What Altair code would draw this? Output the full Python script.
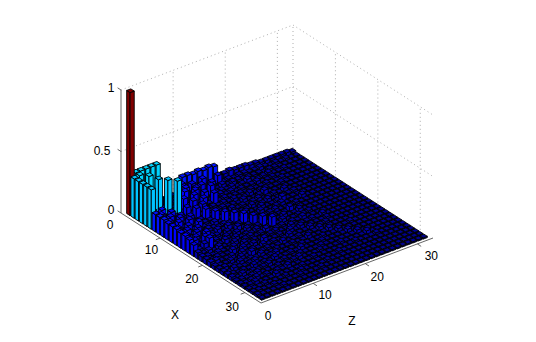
import altair as alt
import pandas as pd

alt.data_transformers.disable_max_rows()

# Bar heights in hundredths; rows are X = 1..32, columns are Z = 1..32
H = [
 [100,33,33,33,33,33,2,2,3,2,15,15,14,15,14,15,14,5,5,6,5,5,5,4,4,3,3,3,3,3,3,2],
 [32,33,13,6,10,5,2,2,3,13,5,10,4,11,4,3,9,2,3,2,3,3,2,2,3,2,1,2,1,2,1,1],
 [32,7,33,5,12,3,3,3,4,12,3,9,10,3,9,2,4,2,3,3,2,2,2,2,1,2,2,1,1,1,1,1],
 [32,6,5,31,6,4,3,3,13,4,11,3,3,10,3,3,2,3,1,2,4,2,1,2,3,1,1,2,1,1,1,1],
 [32,11,6,4,31,4,3,11,4,11,3,10,2,3,4,2,3,1,2,2,2,3,1,1,2,1,1,1,1,1,1,1],
 [32,6,12,3,4,31,4,3,10,3,9,3,10,2,3,2,2,2,1,2,1,1,2,1,1,2,1,1,1,1,1,1],
 [14,12,5,11,6,4,10,3,3,8,2,3,2,3,2,3,2,1,3,1,2,2,1,1,2,1,1,1,1,1,1,1],
 [14,7,11,4,9,5,3,10,3,2,3,2,3,2,2,1,3,1,1,2,4,1,1,1,1,1,1,1,1,1,1,1],
 [14,11,6,11,5,9,3,3,10,3,2,3,1,3,1,2,1,2,3,1,1,2,1,3,1,1,1,1,1,1,1,1],
 [13,7,11,5,10,3,3,3,3,9,2,3,2,2,1,1,3,1,1,3,1,1,1,1,2,1,1,1,1,1,1,1],
 [13,10,5,9,4,9,3,2,4,2,9,2,3,1,3,1,1,3,1,1,2,4,1,1,1,1,1,1,1,1,1,1],
 [13,6,9,4,8,2,4,3,2,3,2,9,2,4,1,1,3,1,1,2,3,1,1,1,3,1,1,1,1,1,1,1],
 [12,9,5,8,3,3,2,4,2,4,1,2,9,1,3,1,1,2,3,1,1,1,2,1,1,1,1,1,1,1,1,1],
 [12,5,8,3,9,4,3,1,3,1,4,1,2,8,1,3,1,1,1,1,4,1,1,1,1,1,1,1,1,1,1,1],
 [11,9,4,9,3,3,2,3,1,3,1,3,1,2,8,1,2,1,3,1,1,3,1,1,1,1,1,1,1,1,1,1],
 [9,4,7,10,3,2,4,1,3,1,2,1,3,1,1,8,1,3,1,1,2,1,2,1,1,1,1,1,1,1,1,1],
 [5,3,4,2,4,2,1,3,1,2,3,1,2,4,1,1,2,1,2,1,3,1,1,1,1,1,1,1,1,1,1,1],
 [4,3,2,3,2,2,3,1,3,1,2,1,1,2,3,1,1,3,1,1,1,2,1,3,1,1,1,1,1,1,1,1],
 [4,2,3,2,2,4,1,3,1,3,1,4,1,1,2,1,3,1,3,1,1,1,1,2,1,1,1,1,1,1,1,1],
 [4,4,2,2,3,1,3,1,2,1,3,1,2,1,1,3,1,1,1,3,1,1,2,1,1,1,1,1,1,1,1,1],
 [3,2,2,3,1,3,1,4,1,1,2,1,1,3,1,1,2,1,1,1,3,1,1,1,1,1,1,1,1,1,1,1],
 [3,3,2,1,3,1,2,1,3,1,1,2,1,1,2,1,1,3,1,1,1,3,1,1,1,2,1,1,1,1,1,1],
 [3,1,3,2,1,2,3,1,1,2,3,1,1,1,1,2,1,1,1,2,1,1,3,1,1,1,1,1,1,1,1,1],
 [3,2,1,2,1,3,1,2,1,3,1,1,2,1,3,1,1,1,2,1,1,1,1,3,1,1,1,1,1,1,1,1],
 [3,1,3,1,2,1,2,3,1,1,2,1,1,2,1,1,1,2,1,1,1,1,1,1,3,1,1,1,1,1,1,1],
 [2,2,1,2,3,1,1,1,2,1,1,2,3,1,1,1,2,1,1,1,2,1,1,1,1,3,1,1,1,1,1,1],
 [2,1,2,3,1,2,1,2,1,3,1,1,1,1,2,1,1,1,1,1,1,1,2,1,1,1,2,1,1,1,1,1],
 [2,2,3,1,1,1,3,1,1,1,1,2,1,1,1,1,1,1,2,1,1,1,1,1,1,1,1,1,1,1,1,1],
 [2,1,1,2,1,1,1,2,1,1,2,1,1,1,1,2,1,1,1,1,1,1,1,1,1,1,1,1,1,1,1,1],
 [2,2,1,1,2,1,1,1,1,2,1,1,1,2,1,1,1,1,1,1,1,1,1,1,1,1,1,1,1,1,1,1],
 [2,1,1,1,1,2,1,1,1,1,1,1,1,1,1,1,1,1,1,1,1,1,1,1,1,1,1,1,1,1,1,1],
 [1,1,1,1,1,1,1,1,1,1,1,1,1,1,1,1,1,1,1,1,1,1,1,1,1,1,1,1,1,1,1,1],
]
HEIGHT_TICKS = [0, 0.5, 1]
HEIGHT_LABELS = ["0", "0.5", "1"]
X_TICKS = [0, 10, 20, 30]
Z_TICKS = [0, 10, 20, 30]

# label nudges from each tick, in pixels
HEIGHT_NUDGE = [(-10, -3), (-19, -1), (-10, -2)]
X_NUDGE = [(-11, 12), (-12, 10), (-14, 11), (-16, 12)]
Z_NUDGE = [(7, 13), (12, 12), (12, 13), (14, 12)]

# oblique view of the box, in page pixels less the 8px margin
W, H_PX = 520, 326
OX, OY = 113, 205
XU = (140 / 33, 90 / 33)
ZU = (172 / 33, -65 / 33)
HU = 123
LIM = 33
BAR = 0.8


def proj(x, z, h=0):
    return (OX + XU[0] * x + ZU[0] * z, OY + XU[1] * x + ZU[1] * z - HU * h)


def jet(v):
    v = round(v * 63) / 63
    r = max(0, min(1, min(4 * v - 1.5, 4.5 - 4 * v)))
    g = max(0, min(1, min(4 * v - 0.5, 3.5 - 4 * v)))
    b = max(0, min(1, min(4 * v + 0.5, 2.5 - 4 * v)))
    return "#%02x%02x%02x" % (round(r * 255), round(g * 255), round(b * 255))


features = []


def add_face(poly, color):
    ring = [[round(p[0], 2), round(p[1], 2)] for p in poly]
    ring.append(ring[0])
    features.append({"type": "Feature", "c": color,
                     "geometry": {"type": "Polygon", "coordinates": [ring]}})


cells = sorted(((x, z) for x in range(1, 33) for z in range(1, 33)), key=lambda c: c[0] - c[1])
for x, z in cells:
    h = H[x - 1][z - 1] / 100
    c = jet(h)
    a = BAR / 2
    add_face([proj(x - a, z - a, h), proj(x + a, z - a, h), proj(x + a, z - a, 0), proj(x - a, z - a, 0)], c)
    add_face([proj(x + a, z - a, h), proj(x + a, z + a, h), proj(x + a, z + a, 0), proj(x + a, z - a, 0)], c)
    add_face([proj(x - a, z - a, h), proj(x + a, z - a, h), proj(x + a, z + a, h), proj(x - a, z + a, h)], c)

xs = alt.Scale(domain=[0, W], nice=False, zero=False)
ys = alt.Scale(domain=[H_PX, 0], nice=False, zero=False)
NOAX = None


def segs(pairs):
    return pd.DataFrame([{"u": a[0], "v": a[1], "u2": b[0], "v2": b[1]} for a, b in pairs])


def rule_layer(df, **mk):
    return alt.Chart(df).mark_rule(**mk).encode(
        x=alt.X("u:Q", scale=xs, axis=NOAX), y=alt.Y("v:Q", scale=ys, axis=NOAX),
        x2="u2:Q", y2="v2:Q")


grid = []
for h in [0.5, 1]:
    grid.append((proj(0, 0, h), proj(0, LIM, h)))
    grid.append((proj(0, LIM, h), proj(LIM, LIM, h)))
for t in [10, 20, 30]:
    grid.append((proj(0, t, 0), proj(0, t, 1)))
    grid.append((proj(t, LIM, 0), proj(t, LIM, 1)))
grid.append((proj(0, LIM, 0), proj(0, LIM, 1)))

axes = [(proj(0, 0, 0), proj(0, 0, 1)), (proj(0, 0, 0), proj(LIM, 0, 0)), (proj(LIM, 0, 0), proj(LIM, LIM, 0))]
for t in HEIGHT_TICKS:
    axes.append((proj(0, 0, t), proj(-0.8, 0, t)))
for t in X_TICKS[1:]:
    axes.append((proj(t - 0.8, 0, 0), proj(t - 0.8, -0.8, 0)))
for t in Z_TICKS[1:]:
    axes.append((proj(LIM, t, 0), proj(LIM + 0.9, t, 0)))

labels = []
for t, s, n in zip(HEIGHT_TICKS, HEIGHT_LABELS, HEIGHT_NUDGE):
    p = proj(0, 0, t)
    labels.append({"u": p[0] + n[0], "v": p[1] + n[1], "t": s})
for t, n in zip(X_TICKS, X_NUDGE):
    p = proj(t, 0, 0)
    labels.append({"u": p[0] + n[0], "v": p[1] + n[1], "t": str(t)})
for t, n in zip(Z_TICKS, Z_NUDGE):
    p = proj(LIM, t, 0)
    labels.append({"u": p[0] + n[0], "v": p[1] + n[1], "t": str(t)})
labels.append({"u": 175 - 8, "v": 315 - 8, "t": "X"})
labels.append({"u": 352 - 8, "v": 321 - 8, "t": "Z"})

wall = rule_layer(segs(grid), color="#999999", strokeWidth=0.8, strokeDash=[1, 3])

bars = alt.Chart(alt.Data(values=features)).mark_geoshape(stroke="black", strokeWidth=0.9).encode(
    fill=alt.Fill("c:N", scale=None),
).project(type="identity", scale=1, translate=[0, 0])

ax = rule_layer(segs(axes), color="#555555", strokeWidth=0.9)

text = alt.Chart(pd.DataFrame(labels)).mark_text(
    font="Liberation Sans", fontSize=12, color="black", baseline="middle", align="center"
).encode(x=alt.X("u:Q", scale=xs, axis=NOAX), y=alt.Y("v:Q", scale=ys, axis=NOAX), text="t:N")

chart = alt.layer(wall, bars, ax, text).properties(
    width=W, height=H_PX, padding=0, autosize=alt.AutoSizeParams(type="none"),
    background="white",
).configure_view(stroke=None)

chart.save("out.html", embed_options={"renderer": "svg", "actions": False})
